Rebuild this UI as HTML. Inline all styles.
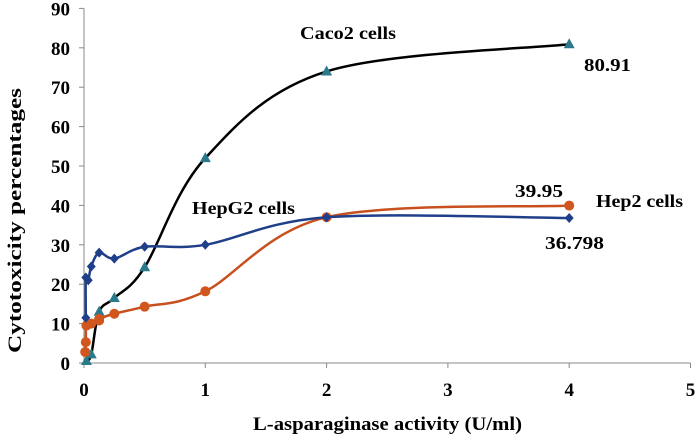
<!DOCTYPE html>
<html><head><meta charset="utf-8"><style>
body{margin:0;background:#fff}
svg{display:block;font-family:"Liberation Serif",serif;font-weight:bold}
</style></head><body>
<svg id="chart" width="697" height="437" viewBox="0 0 697 437">
<g id="axes"></g>
<g id="series"></g>
<text x="253" y="430" font-size="19" textLength="269" lengthAdjust="spacingAndGlyphs">L-asparaginase activity (U/ml)</text>
<text transform="translate(21,353) rotate(-90)" font-size="19" textLength="265" lengthAdjust="spacingAndGlyphs">Cytotoxicity percentages</text>
<text x="300" y="39" font-size="18" textLength="96" lengthAdjust="spacingAndGlyphs">Caco2 cells</text>
<text x="584" y="71" font-size="18" textLength="47" lengthAdjust="spacingAndGlyphs">80.91</text>
<text x="515" y="197" font-size="18" textLength="48" lengthAdjust="spacingAndGlyphs">39.95</text>
<text x="596" y="207" font-size="18" textLength="87" lengthAdjust="spacingAndGlyphs">Hep2 cells</text>
<text x="192" y="214" font-size="18" textLength="103" lengthAdjust="spacingAndGlyphs">HepG2 cells</text>
<text x="545" y="249" font-size="18" textLength="59" lengthAdjust="spacingAndGlyphs">36.798</text>
</svg>
<script>
const xTicks=[0,1,2,3,4,5];
const yTicks=[0,10,20,30,40,50,60,70,80,90];
const hepg2X=[0.015,0.015,0.035,0.06,0.125,0.25,0.5,1,2,4];
const hepg2Y=[11.5,21.7,21,24.5,28,26.5,29.5,30,37,36.798];
const hep2X=[0.01,0.015,0.02,0.06,0.125,0.125,0.25,0.5,1,2,4];
const hep2Y=[2.8,5.3,9.5,10,10.8,11.2,12.5,14.3,18.2,37,39.95];
const caco2X=[0.02,0.06,0.125,0.25,0.5,1,2,4];
const caco2Y=[0.5,2.2,13,16.5,24.3,52,74,80.91];
const NS="http://www.w3.org/2000/svg";
const X0=84,XU=121.3,Y0=363,YU=3.94;
const sx=v=>X0+v*XU, sy=v=>Y0-v*YU;
function mk(tag,attrs,parent){const e=document.createElementNS(NS,tag);for(const k in attrs)e.setAttribute(k,attrs[k]);parent.appendChild(e);return e;}
const ax=document.getElementById('axes');
let l=mk('line',{x1:X0,y1:sy(90),x2:X0,y2:Y0,stroke:'#888','stroke-width':1},ax);


l=mk('line',{x1:X0,y1:Y0,x2:sx(5),y2:Y0,stroke:'#888','stroke-width':1},ax);


yTicks.forEach(t=>{
  mk('line',{x1:X0-5,y1:sy(t),x2:X0,y2:sy(t),stroke:'#888'},ax);
  const tx=mk('text',{x:X0-14,y:sy(t)+7,'text-anchor':'end','font-size':19},ax);tx.textContent=t;
  
  
});
xTicks.forEach(t=>{
  mk('line',{x1:sx(t),y1:Y0,x2:sx(t),y2:Y0+5,stroke:'#888'},ax);
  const tx=mk('text',{x:sx(t),y:Y0+33,'text-anchor':'middle','font-size':19},ax);tx.textContent=t;
  
  
});
function smooth(pts){
  let d=`M${pts[0][0]},${pts[0][1]}`;
  for(let i=0;i<pts.length-1;i++){
    const p0=pts[i-1]||pts[i],p1=pts[i],p2=pts[i+1],p3=pts[i+2]||p2;
    const t=0.5/3;
    d+=` C${p1[0]+(p2[0]-p0[0])*t},${p1[1]+(p2[1]-p0[1])*t} ${p2[0]-(p3[0]-p1[0])*t},${p2[1]-(p3[1]-p1[1])*t} ${p2[0]},${p2[1]}`;
  }
  return d;
}
const sg=document.getElementById('series');
function series(xs,ys,lineCol,markCol,shape,name){
  const pts=xs.map((x,i)=>[sx(x),sy(ys[i])]);
  const p=mk('path',{d:smooth(pts),fill:'none',stroke:lineCol,'stroke-width':2.5},sg);
  
  
  pts.forEach(([x,y])=>{
    let m;
    if(shape==='diamond')m=mk('polygon',{points:`${x},${y-5} ${x+4.5},${y} ${x},${y+5} ${x-4.5},${y}`,fill:markCol},sg);
    else if(shape==='circle')m=mk('circle',{cx:x,cy:y,r:5,fill:markCol},sg);
    else m=mk('polygon',{points:`${x},${y-6} ${x+5.5},${y+4} ${x-5.5},${y+4}`,fill:markCol},sg);
    
    
  });
}
series(caco2X,caco2Y,'#000','#2a7a8c','triangle','caco2');
series(hep2X,hep2Y,'#c8501e','#d0561e','circle','hep2');
series(hepg2X,hepg2Y,'#1f3f8a','#1f3f8a','diamond','hepg2');
</script>
</body></html>
